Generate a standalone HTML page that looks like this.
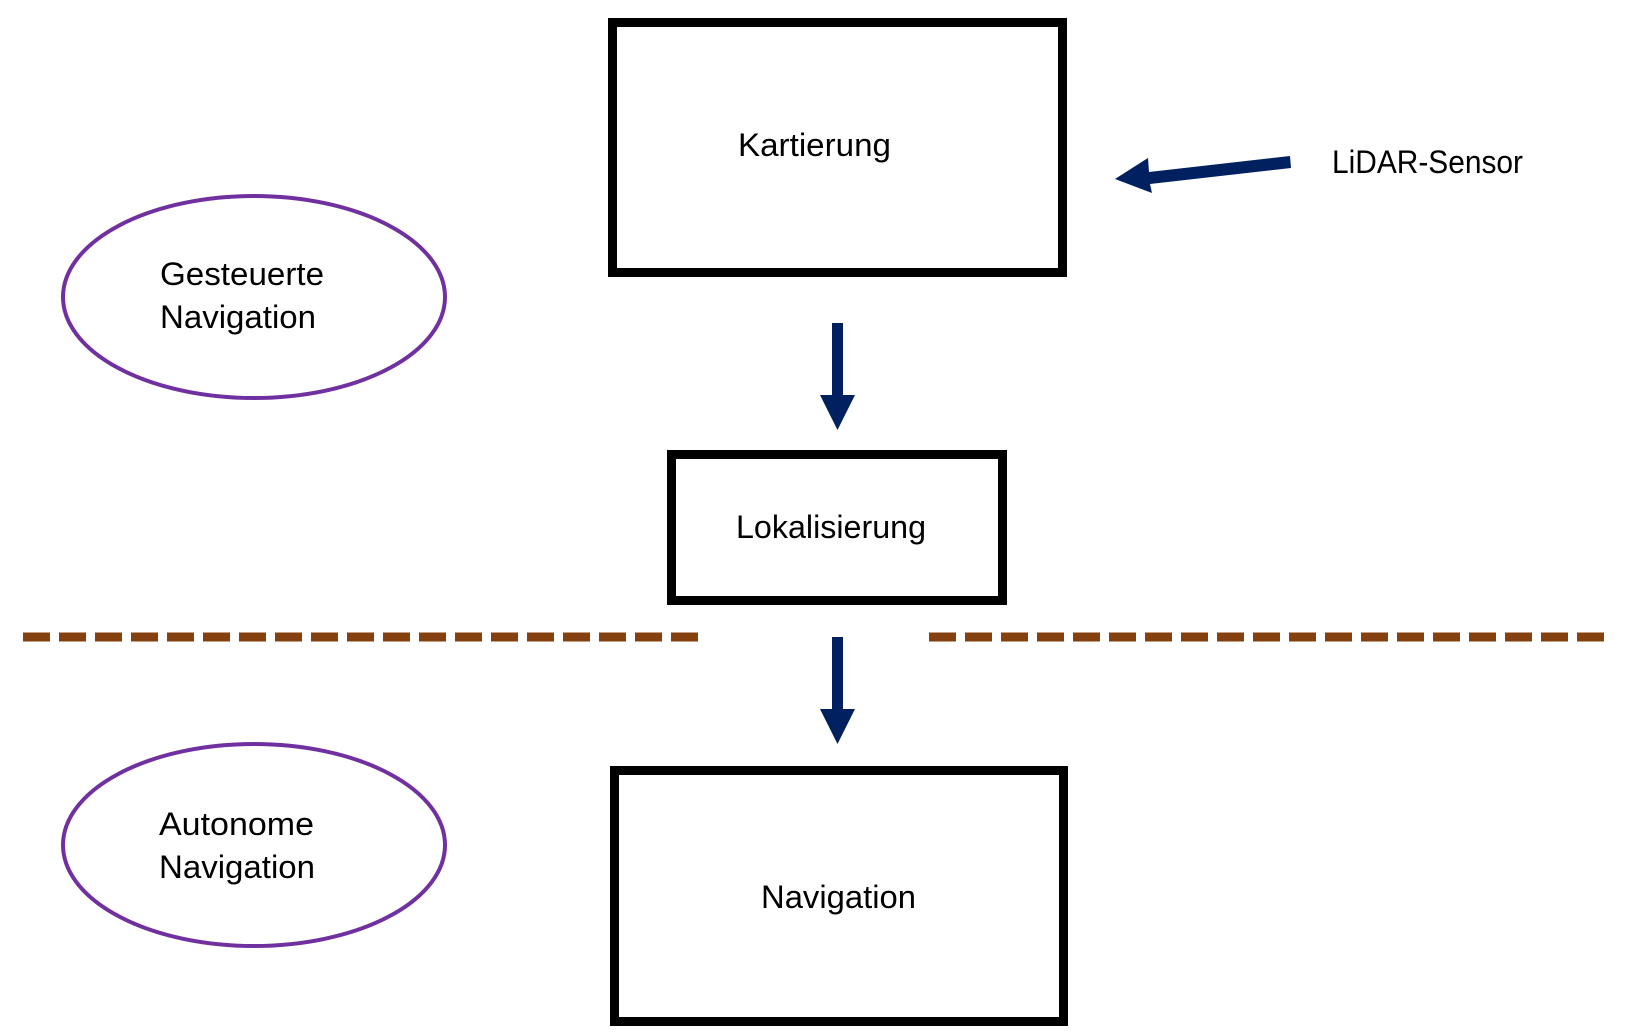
<!DOCTYPE html>
<html><head><meta charset="utf-8"><style>html,body{margin:0;padding:0;background:#fff}svg{display:block}</style></head>
<body>
<svg width="1636" height="1034" viewBox="0 0 1636 1034" xmlns="http://www.w3.org/2000/svg" font-family="Liberation Sans, sans-serif" font-size="32" fill="#000">
<rect x="612.5" y="22.5" width="450" height="250" fill="none" stroke="#000" stroke-width="9"/>
<rect x="671.5" y="454.5" width="331" height="146" fill="none" stroke="#000" stroke-width="9"/>
<rect x="614.5" y="770.5" width="449" height="251" fill="none" stroke="#000" stroke-width="9"/>
<ellipse cx="254" cy="297" rx="191" ry="101" fill="none" stroke="#7030A0" stroke-width="4"/>
<ellipse cx="254" cy="845" rx="191" ry="101" fill="none" stroke="#7030A0" stroke-width="4"/>
<g stroke="#854010" stroke-width="9" stroke-dasharray="27 9">
<line x1="23" y1="637" x2="701" y2="637"/>
<line x1="929" y1="637" x2="1611" y2="637"/>
</g>
<g fill="#002060">
<rect x="832" y="323" width="11" height="73"/>
<polygon points="820,395 855,395 837.5,430"/>
<rect x="832" y="637" width="11" height="73"/>
<polygon points="820,709 855,709 837.5,744"/>
<polygon points="1290,156 1291,168 1150,184 1152,193 1115,179 1148,158 1149,172"/>
</g>
<text x="738" y="156" textLength="153" lengthAdjust="spacingAndGlyphs">Kartierung</text>
<text x="736" y="538" textLength="190" lengthAdjust="spacingAndGlyphs">Lokalisierung</text>
<text x="761" y="908" textLength="155" lengthAdjust="spacingAndGlyphs">Navigation</text>
<text x="160" y="285" textLength="164" lengthAdjust="spacingAndGlyphs">Gesteuerte</text>
<text x="160" y="328" textLength="156" lengthAdjust="spacingAndGlyphs">Navigation</text>
<text x="159" y="835" textLength="155" lengthAdjust="spacingAndGlyphs">Autonome</text>
<text x="159" y="878" textLength="156" lengthAdjust="spacingAndGlyphs">Navigation</text>
<text x="1332" y="173" textLength="191" lengthAdjust="spacingAndGlyphs">LiDAR-Sensor</text>
</svg>
</body></html>
